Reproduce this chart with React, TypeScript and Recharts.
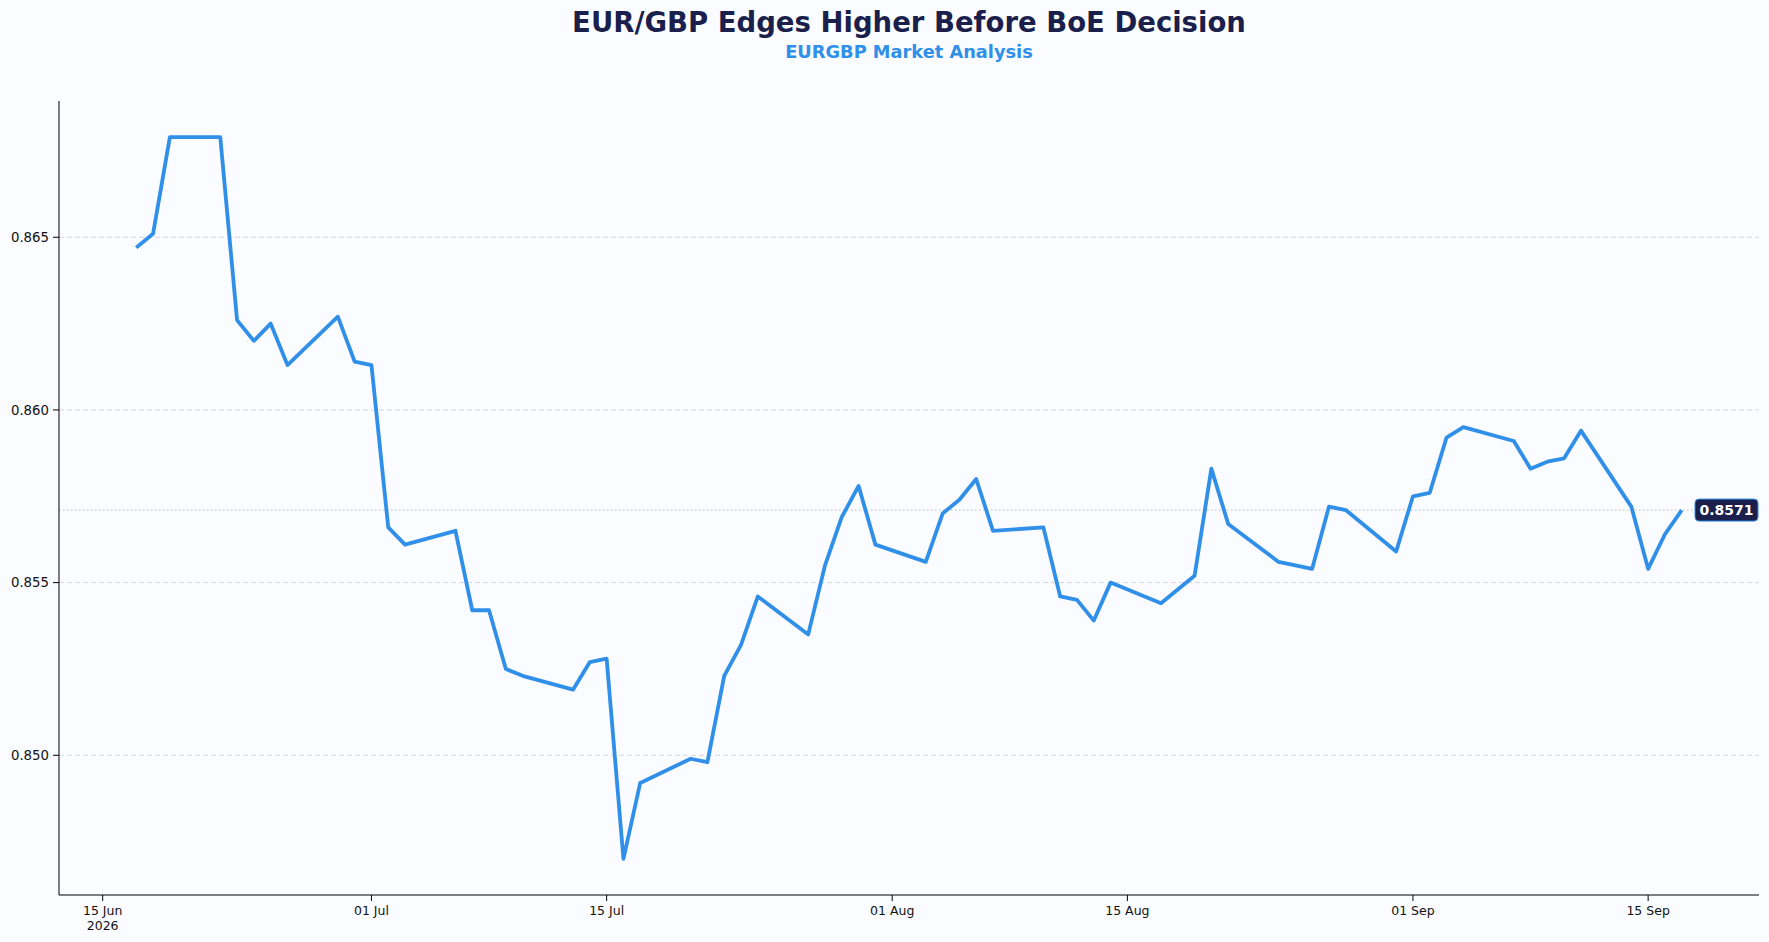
import React from "react";
import { LineChart, Line, XAxis, YAxis, ReferenceLine } from "recharts";

const dates = [
  "2026-06-17", "2026-06-18", "2026-06-19", "2026-06-22", "2026-06-23", "2026-06-24", "2026-06-25", "2026-06-26",
  "2026-06-29", "2026-06-30", "2026-07-01", "2026-07-02", "2026-07-03", "2026-07-06", "2026-07-07", "2026-07-08",
  "2026-07-09", "2026-07-10", "2026-07-13", "2026-07-14", "2026-07-15", "2026-07-16", "2026-07-17", "2026-07-20",
  "2026-07-21", "2026-07-22", "2026-07-23", "2026-07-24", "2026-07-27", "2026-07-28", "2026-07-29", "2026-07-30",
  "2026-07-31", "2026-08-03", "2026-08-04", "2026-08-05", "2026-08-06", "2026-08-07", "2026-08-10", "2026-08-11",
  "2026-08-12", "2026-08-13", "2026-08-14", "2026-08-17", "2026-08-18", "2026-08-19", "2026-08-20", "2026-08-21",
  "2026-08-24", "2026-08-25", "2026-08-26", "2026-08-27", "2026-08-28", "2026-08-31", "2026-09-01", "2026-09-02",
  "2026-09-03", "2026-09-04", "2026-09-07", "2026-09-08", "2026-09-09", "2026-09-10", "2026-09-11", "2026-09-14",
  "2026-09-15", "2026-09-16", "2026-09-17",
];

const prices = [
  0.8647, 0.8651, 0.8679, 0.8679, 0.8626, 0.862, 0.8625, 0.8613,
  0.8627, 0.8614, 0.8613, 0.8566, 0.8561, 0.8565, 0.8542, 0.8542,
  0.8525, 0.8523, 0.8519, 0.8527, 0.8528, 0.847, 0.8492, 0.8499,
  0.8498, 0.8523, 0.8532, 0.8546, 0.8535, 0.8555, 0.8569, 0.8578,
  0.8561, 0.8556, 0.857, 0.8574, 0.858, 0.8565, 0.8566, 0.8546,
  0.8545, 0.8539, 0.855, 0.8544, 0.8548, 0.8552, 0.8583, 0.8567,
  0.8556, 0.8555, 0.8554, 0.8572, 0.8571, 0.8559, 0.8575, 0.8576,
  0.8592, 0.8595, 0.8591, 0.8583, 0.8585, 0.8586, 0.8594, 0.8572,
  0.8554, 0.8564, 0.8571,
];

const tickDates = ["2026-06-15", "2026-07-01", "2026-07-15", "2026-08-01", "2026-08-15", "2026-09-01", "2026-09-15"];
const tickLabels = ["15 Jun", "01 Jul", "15 Jul", "01 Aug", "15 Aug", "01 Sep", "15 Sep"];
const yTicks = [0.85, 0.855, 0.86, 0.865];

const FONT = "DejaVu Sans, Verdana, sans-serif";
const NAVY = "#1b1f4b";
const BLUE = "#2f8fe9";
const BG = "#fafcff";

const toDay = (s: string) => {
  const [y, m, d] = s.split("-").map(Number);
  return Date.UTC(y, m - 1, d) / 86400000;
};

const data = dates.map((d, i) => ({ t: toDay(d), price: prices[i] }));
const tickDays = tickDates.map(toDay);

// matplotlib-style 5% margins
const tMin = data[0].t;
const tMax = data[data.length - 1].t;
const tPad = (tMax - tMin) * 0.05;
const pMin = Math.min(...prices);
const pMax = Math.max(...prices);
const pPad = (pMax - pMin) * 0.05;
const last = prices[prices.length - 1];

const XTick = (props: any) => {
  const { x, y, payload } = props;
  const idx = tickDays.indexOf(payload.value);
  return (
    <g>
      <text x={x} y={y + 11} textAnchor="middle" fontSize={12.5} fontFamily={FONT} fill="#111">
        {tickLabels[idx]}
      </text>
      {idx === 0 && (
        <text x={x} y={y + 26} textAnchor="middle" fontSize={12.5} fontFamily={FONT} fill="#111">
          2026
        </text>
      )}
    </g>
  );
};

const LastLabel = (props: any) => {
  const { viewBox } = props;
  const w = 63;
  const h = 22;
  const x = viewBox.x + viewBox.width - w - 1;
  const y = viewBox.y - h / 2;
  return (
    <g>
      <rect x={x} y={y} width={w} height={h} rx={4} fill={NAVY} stroke={BLUE} strokeWidth={1} />
      <text x={x + w / 2} y={viewBox.y + 5} textAnchor="middle" fontSize={14} fontWeight="bold" fontFamily={FONT} fill="#fff">
        {last.toFixed(4)}
      </text>
    </g>
  );
};

export default function App() {
  return (
    <div style={{ position: "absolute", left: 0, top: 0, width: 1769, height: 942, background: BG, fontFamily: FONT }}>
      <LineChart width={1769} height={942} data={data} margin={{ top: 101, right: 10, bottom: 0, left: 0 }}>
        <XAxis
          dataKey="t"
          type="number"
          domain={[tMin - tPad, tMax + tPad]}
          ticks={tickDays}
          tick={<XTick />}
          height={47}
          tickSize={6}
          tickMargin={3}
          stroke="#000"
          tickLine={{ stroke: "#000" }}
          allowDataOverflow
        />
        <YAxis
          type="number"
          domain={[pMin - pPad, pMax + pPad]}
          ticks={yTicks}
          tickFormatter={(v: number) => v.toFixed(3)}
          width={59}
          tickSize={6}
          tickMargin={4}
          stroke="#000"
          tick={{ fontSize: 13.3, fontFamily: FONT, fill: "#111" }}
          allowDataOverflow
        />
        {yTicks.map((v) => (
          <ReferenceLine key={v} y={v} stroke="#cfd3da" strokeWidth={0.9} strokeDasharray="5 3" />
        ))}
        <ReferenceLine
          y={last}
          stroke="#b5b9c3"
          strokeWidth={1}
          strokeDasharray="1.5 2.5"
          label={<LastLabel />}
        />
        <Line
          type="linear"
          dataKey="price"
          stroke={BLUE}
          strokeWidth={3.8}
          dot={false}
          strokeLinejoin="round"
          isAnimationActive={false}
        />
      </LineChart>
      <svg width={1769} height={80} style={{ position: "absolute", left: 0, top: 0, pointerEvents: "none" }}>
        <text x={909} y={32} textAnchor="middle" fontSize={27.5} fontWeight="bold" fontFamily={FONT} fill={NAVY}>
          EUR/GBP Edges Higher Before BoE Decision
        </text>
        <text x={909} y={58} textAnchor="middle" fontSize={17.8} fontWeight="bold" fontFamily={FONT} fill={BLUE}>
          EURGBP Market Analysis
        </text>
      </svg>
    </div>
  );
}
